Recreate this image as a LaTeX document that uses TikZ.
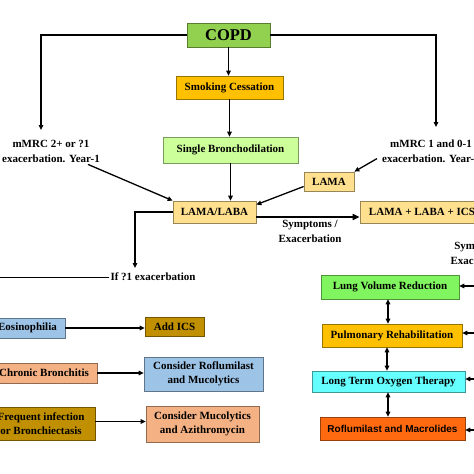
\documentclass[tikz,border=0pt]{standalone}
\usepackage{fontspec}
\setmainfont{Liberation Serif}
\setsansfont{Liberation Sans}
\usetikzlibrary{positioning,arrows.meta,calc}
\definecolor{copdgreen}{HTML}{92D050}
\definecolor{smokegold}{HTML}{FFC000}
\definecolor{bronchgreen}{HTML}{CCFF99}
\definecolor{lamatan}{HTML}{FFE08F}
\definecolor{lvrgreen}{HTML}{80F55F}
\definecolor{oxycyan}{HTML}{66FFFF}
\definecolor{roforange}{HTML}{FF6A10}
\definecolor{eosblue}{HTML}{9DC3E6}
\definecolor{icsgold}{HTML}{C09000}
\definecolor{bronchsalmon}{HTML}{F4B183}
\newcommand{\flowfont}{\bfseries\fontsize{11}{14}\selectfont}
\newcommand{\lblfont}{\bfseries\fontsize{11}{15}\selectfont}
\tikzset{
    box/.style={draw=#1!60!black,fill=#1,line width=0.7pt,inner sep=1pt,align=center,font=\flowfont},
    lbl/.style={inner sep=1pt,align=center,font=\lblfont},
    arr/.style={draw,-{Triangle[length=5pt,width=4.5pt]},line width=1.3pt},
    thickarr/.style={draw,-{Triangle[length=7pt,width=6pt]},line width=2.6pt},
    dblarr/.style={draw,{Triangle[length=5pt,width=4.5pt]}-{Triangle[length=5pt,width=4.5pt]},line width=1.3pt},
    plain/.style={draw,line width=0.8pt},
}

\begin{document}
\begin{tikzpicture}[x=1pt,y=-1pt]
    \useasboundingbox (0,0) rectangle (474,474);
    \clip (0,0) rectangle (474,474);

    % main column
    \node[box=copdgreen,minimum width=83pt,minimum height=24pt,font=\bfseries\fontsize{16.5}{18}\selectfont] (copd) at (228.5,35) {COPD};
    \node[box=smokegold,minimum width=107pt,minimum height=23pt] (smoke) at (229.5,87.5) {Smoking Cessation};
    \node[box=bronchgreen,minimum width=135pt,minimum height=26pt] (single) at (230.5,150) {Single Bronchodilation};
    \node[box=lamatan,minimum width=83pt,minimum height=22pt] (lamalaba) at (214.5,212) {LAMA/LABA};
    \node[box=lamatan,minimum width=50pt,minimum height=19pt] (lama) at (329,181.5) {LAMA};
    \node[box=lamatan,minimum width=124pt,minimum height=22pt] (triple) at (422,212) {LAMA + LABA + ICS};

    % labels
    \node[lbl] (mmrcl) at (51,151) {mMRC 2+ or ?1\\exacerbation. Year-1};
    \node[lbl] (mmrcr) at (431,151) {mMRC 1 and 0-1\\exacerbation. Year-1};
    \node[lbl] (symp) at (310,231.5) {Symptoms /\\Exacerbation};
    \node[lbl] (sympr) at (482,253) {Symptoms /\\Exacerbation};
    \node[lbl] (ifexac) at (153,277) {If ?1 exacerbation};

    % right column
    \node[box=lvrgreen,minimum width=138pt,minimum height=24pt] (lvr) at (390,287) {Lung Volume Reduction};
    \node[box=smokegold,minimum width=140pt,minimum height=23pt] (rehab) at (392,335.5) {Pulmonary Rehabilitation};
    \node[box=oxycyan,minimum width=153pt,minimum height=21pt] (oxy) at (388.5,381.5) {Long Term Oxygen Therapy};
    \node[box=roforange,minimum width=145pt,minimum height=23pt,font=\sffamily\bfseries\fontsize{10}{12}\selectfont] (rofmac) at (392.5,428.5) {Roflumilast and Macrolides};

    % left column
    \node[box=eosblue,minimum width=75pt,minimum height=20pt] (eos) at (27.5,328) {Eosinophilia};
    \node[box=icsgold,minimum width=59pt,minimum height=19pt] (addics) at (174.5,326.5) {Add ICS};
    \node[box=bronchsalmon,minimum width=106pt,minimum height=20pt] (chron) at (44,373) {Chronic Bronchitis};
    \node[box=eosblue,minimum width=119pt,minimum height=34pt] (consrof) at (203.5,374) {Consider Roflumilast\\and Mucolytics};
    \node[box=icsgold,minimum width=108pt,minimum height=33pt] (freq) at (41,423.5) {Frequent infection\\or Bronchiectasis};
    \node[box=bronchsalmon,minimum width=113pt,minimum height=36pt] (consmuc) at (202.5,424) {Consider Mucolytics\\and Azithromycin};

    % free ends
    \coordinate (lt) at (41,130);
    \coordinate (rt) at (436,127);
    \coordinate (ift) at (135,268);
    \coordinate (ifl) at (-10,278);
    \coordinate (r1) at (480,286);
    \coordinate (r2) at (480,333);
    \coordinate (r3) at (480,379);
    \coordinate (r4) at (480,430);

    % connectors
    \draw[arr] (copd.west) -| (lt);
    \draw[arr] (copd.east) -| (rt);
    \draw[arr] (copd.south) -- (copd.south |- smoke.north);
    \draw[arr] (smoke.south) -- (smoke.south |- single.north);
    \draw[arr] (single.south) -- (single.south |- lamalaba.north);
    \draw[arr] ($(mmrcl.south east)+(-13,1)$) -- (lamalaba.north west);
    \draw[arr] ($(mmrcr.south west)+(-4,-5)$) -- (lama.north east);
    \draw[arr] ($(lama.west)+(0,5)$) -- (lamalaba.10);
    \draw[arr] (lamalaba.west) -| (ift);
    \draw[plain] (ifexac.west) -- (ifexac.west -| ifl);
    \draw[thickarr] ($(lamalaba.east)+(0,5)$) coordinate (s1) -- (s1 -| triple.west);

    \draw[dblarr] (lvr.south -| 388,0) -- (rehab.north -| 388,0);
    \draw[dblarr] (rehab.south -| 387,0) -- (oxy.north -| 387,0);
    \draw[dblarr] (oxy.south -| 388,0) -- (rofmac.north -| 388,0);
    \draw[arr] (r1) -- (r1 -| lvr.east);
    \draw[arr] (r2) -- (r2 -| rehab.east);
    \draw[arr] (r3) -- (r3 -| oxy.east);
    \draw[arr] (r4) -- (r4 -| rofmac.east);

    \draw[arr] (eos.east) -- (eos.east -| addics.west);
    \draw[arr] (chron.east) -- (chron.east -| consrof.west);
    \draw[arr] ($(freq.east)+(0,-2)$) coordinate (f1) -- (f1 -| consmuc.west);
\end{tikzpicture}
\end{document}
